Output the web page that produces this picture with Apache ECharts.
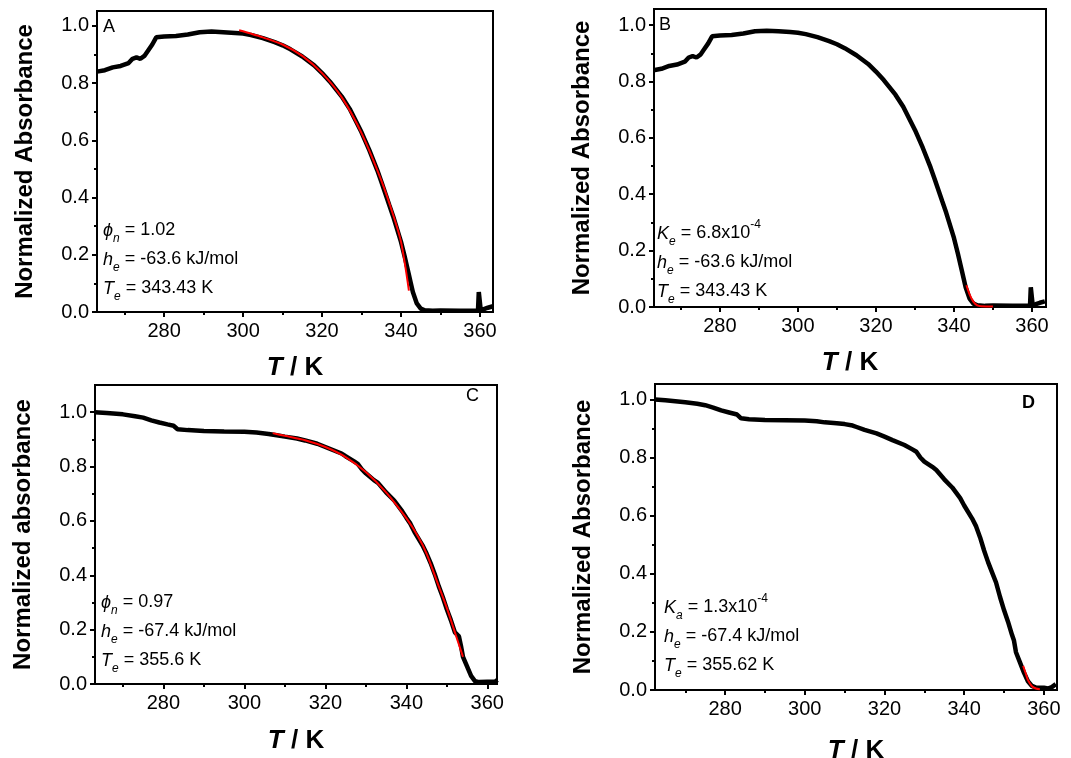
<!DOCTYPE html>
<html><head><meta charset="utf-8">
<script src="https://cdn.jsdelivr.net/npm/echarts@6/dist/echarts.min.js"></script>
<style>html,body{margin:0;padding:0;background:#fff}#c{width:1071px;height:758px}</style>
</head><body><div id="c"></div>
<script>
// ---- Data (panels A and B share the same measured curve; C and D share another) ----
const tAB = [263,265,267,269,271,272,273,274,275,276,277,278,280,283,286,289,292,295,298,300,302,305,308,310,312,315,318,320,322,325,327,330,332,334,335,337,338,340,341,342,342.5,343,344,345,346,348,350,355,359.5,359.7,360,360.2,361,362,363.3];
const aAB = [0.84,0.845,0.855,0.86,0.87,0.885,0.89,0.885,0.895,0.915,0.935,0.96,0.963,0.965,0.97,0.978,0.98,0.978,0.975,0.973,0.968,0.957,0.943,0.932,0.918,0.893,0.862,0.835,0.805,0.753,0.71,0.628,0.565,0.495,0.456,0.375,0.335,0.245,0.19,0.13,0.1,0.07,0.03,0.012,0.006,0.004,0.005,0.004,0.005,0.07,0.07,0.005,0.01,0.015,0.02];
const tFitA = [299,302,305,310,315,320,325,330,335,338,340,342];
const aFitA = [0.985,0.973,0.96,0.935,0.895,0.835,0.75,0.625,0.46,0.34,0.245,0.075];
const tFitB = [343.2,344,345,346,347,350];
const aFitB = [0.077,0.045,0.018,0.006,0.003,0.002];

const tC = [263,266,270,273,275,277,279,281,282.5,283.5,286,290,295,300,303,306,308,310,313,315,318,320,322,324,325,327,328,329,330,332,333,335,337,339,340,341,342,343,344,345,346,347,348,349,350,351,352,353,353.5,354,355,356,357,358,360,362,362.5];
const aC = [1.0,0.997,0.992,0.985,0.98,0.97,0.962,0.955,0.95,0.937,0.934,0.931,0.929,0.928,0.925,0.92,0.915,0.91,0.903,0.896,0.884,0.872,0.86,0.848,0.838,0.82,0.81,0.79,0.775,0.75,0.74,0.705,0.675,0.635,0.612,0.59,0.56,0.535,0.51,0.48,0.445,0.405,0.36,0.32,0.275,0.235,0.19,0.175,0.14,0.1,0.065,0.03,0.01,0.007,0.008,0.009,0.015];
const tFitC = [307,310,315,320,325,330,335,340,343,345,348,350,352,354];
const aFitC = [0.923,0.913,0.897,0.872,0.835,0.78,0.705,0.61,0.54,0.48,0.36,0.28,0.19,0.1];

const tD = [262.4,265,270,273,275,277,279,281,283,284,286,290,295,300,303,305,308,310,312,313,315,318,320,322,325,327,328,329,330,332,333,335,337,339,340,342,343,344,345,346,347,348,349,350,351,352,352.5,353,354,355,356,357,358,360,361,362,363];
const aD = [1.0,0.997,0.99,0.985,0.98,0.972,0.962,0.955,0.948,0.935,0.932,0.929,0.928,0.927,0.925,0.921,0.918,0.915,0.91,0.905,0.895,0.883,0.872,0.86,0.843,0.828,0.82,0.8,0.786,0.768,0.757,0.725,0.697,0.66,0.635,0.59,0.563,0.525,0.48,0.44,0.405,0.37,0.32,0.275,0.235,0.19,0.17,0.13,0.095,0.06,0.03,0.014,0.008,0.008,0.005,0.01,0.02];
const tFitD = [354.8,355.5,356,357,358,359];
const aFitD = [0.083,0.055,0.035,0.013,0.005,0.003];

const xMajor = [280,300,320,340,360];
const xMinor = [270,290,310,330,350];
const yMajor = [0,0.2,0.4,0.6,0.8,1.0];
const yMinor = [0.1,0.3,0.5,0.7,0.9];

const yNames = ['Normalized Absorbance','Normalized Absorbance','Normalized absorbance','Normalized Absorbance'];
const xRanges = [[263,363.3],[263.1,363.6],[263.1,362.4],[262.4,363.3]];
const yMaxes = [1.052,1.057,1.1,1.053];

const pair = (t,a) => t.map((v,i)=>[v,a[i]]);
const blackData = [pair(tAB,aAB), pair(tAB,aAB), pair(tC,aC), pair(tD,aD)];
const redData = [pair(tFitA,aFitA), pair(tFitB,aFitB), pair(tFitC,aFitC), pair(tFitD,aFitD)];

// ---- Layout ----
const grids = [
  {left:97, top:11, width:396, height:301},
  {left:654, top:9, width:392, height:298},
  {left:95, top:385, width:402, height:299},
  {left:655, top:384, width:402, height:306}
];
const xNameGaps = [43,43,44,48];
const yNameGaps = [60,60,60,60];
const FONT = 'Liberation Sans, Arial, sans-serif';

const xAxis = [], yAxis = [], series = [];
grids.forEach((g, i) => {
  g.show = true; g.borderColor = '#000'; g.borderWidth = 2; g.backgroundColor = 'transparent';
  g.containLabel = false; g.outerBoundsMode = 'none';
  const [xmin, xmax] = xRanges[i];
  xAxis.push({
    gridIndex:i, type:'value', min:xmin, max:xmax, position:'bottom',
    axisLine:{show:true, onZero:false, lineStyle:{color:'#000', width:2}},
    axisTick:{show:true, customValues:xMajor, length:5, lineStyle:{color:'#000', width:2}},
    axisLabel:{customValues:xMajor, fontSize:20, color:'#000', margin:9, fontFamily:FONT},
    splitLine:{show:false},
    name:'{i|T} / K', nameLocation:'middle', nameGap:xNameGaps[i],
    nameTextStyle:{fontSize:26, fontWeight:'bold', color:'#000', fontFamily:FONT,
      rich:{i:{fontSize:26, fontWeight:'bold', fontStyle:'italic', color:'#000', fontFamily:FONT}}}
  });
  xAxis.push({
    gridIndex:i, type:'value', min:xmin, max:xmax, position:'bottom',
    axisLine:{show:false}, axisLabel:{show:false}, splitLine:{show:false},
    axisTick:{show:true, customValues:xMinor, length:3, lineStyle:{color:'#000', width:2}}
  });
  yAxis.push({
    gridIndex:i, type:'value', min:0, max:yMaxes[i], position:'left',
    axisLine:{show:true, onZero:false, lineStyle:{color:'#000', width:2}},
    axisTick:{show:true, customValues:yMajor, length:5, lineStyle:{color:'#000', width:2}},
    axisLabel:{customValues:yMajor, fontSize:20, color:'#000', margin:8, fontFamily:FONT,
      formatter:(v)=>v.toFixed(1)},
    splitLine:{show:false},
    name:yNames[i], nameLocation:'middle', nameGap:yNameGaps[i],
    nameTextStyle:{fontSize:24, fontWeight:'bold', color:'#000', fontFamily:FONT}
  });
  yAxis.push({
    gridIndex:i, type:'value', min:0, max:yMaxes[i], position:'left',
    axisLine:{show:false}, axisLabel:{show:false}, splitLine:{show:false},
    axisTick:{show:true, customValues:yMinor, length:3, lineStyle:{color:'#000', width:2}}
  });
  series.push({
    type:'line', xAxisIndex:2*i, yAxisIndex:2*i, data:blackData[i], showSymbol:false,
    lineStyle:{color:'#000', width:4.5}, z:2, clip:true
  });
  series.push({
    type:'line', xAxisIndex:2*i, yAxisIndex:2*i, data:redData[i], showSymbol:false, smooth:0.3,
    lineStyle:{color:'#ff0000', width:2}, z:3, clip:true
  });
});

const richAnno = {
  i:{fontStyle:'italic', fontSize:18, fontFamily:FONT, color:'#000', lineHeight:29},
  s:{fontStyle:'italic', fontSize:12, fontFamily:FONT, color:'#000', verticalAlign:'bottom', lineHeight:13},
  sup:{fontSize:12, fontFamily:FONT, color:'#000', verticalAlign:'top', lineHeight:14}
};
const annoStyle = {fontSize:18, fontFamily:FONT, color:'#000', fontWeight:'normal', lineHeight:29, rich:richAnno};
const annoTexts = [
  '{i|ϕ}{s|n} = 1.02\n{i|h}{s|e} = -63.6 kJ/mol\n{i|T}{s|e} = 343.43 K',
  '{i|K}{s|e} = 6.8x10{sup|-4}\n{i|h}{s|e} = -63.6 kJ/mol\n{i|T}{s|e} = 343.43 K',
  '{i|ϕ}{s|n} = 0.97\n{i|h}{s|e} = -67.4 kJ/mol\n{i|T}{s|e} = 355.6 K',
  '{i|K}{s|a} = 1.3x10{sup|-4}\n{i|h}{s|e} = -67.4 kJ/mol\n{i|T}{s|e} = 355.62 K'
];
const annoPos = [[103,216],[657,219],[101,588],[664,593]];
const letters = ['A','B','C','D'];
const letterPos = [[103,18],[659,16],[466,387],[1022,394]];
const letterWeight = ['normal','normal','normal','bold'];

const title = [];
annoTexts.forEach((t,i)=>{
  title.push({text:t, left:annoPos[i][0], top:annoPos[i][1], padding:0, textStyle:annoStyle});
  title.push({text:letters[i], left:letterPos[i][0], top:letterPos[i][1], padding:0,
    textStyle:{fontSize:18, fontWeight:letterWeight[i], fontFamily:FONT, color:'#000'}});
});

const chart = echarts.init(document.getElementById('c'), null, {renderer:'canvas'});
chart.setOption({
  animation:false, backgroundColor:'#fff',
  title, grid:grids, xAxis, yAxis, series
});
</script>
</body></html>
